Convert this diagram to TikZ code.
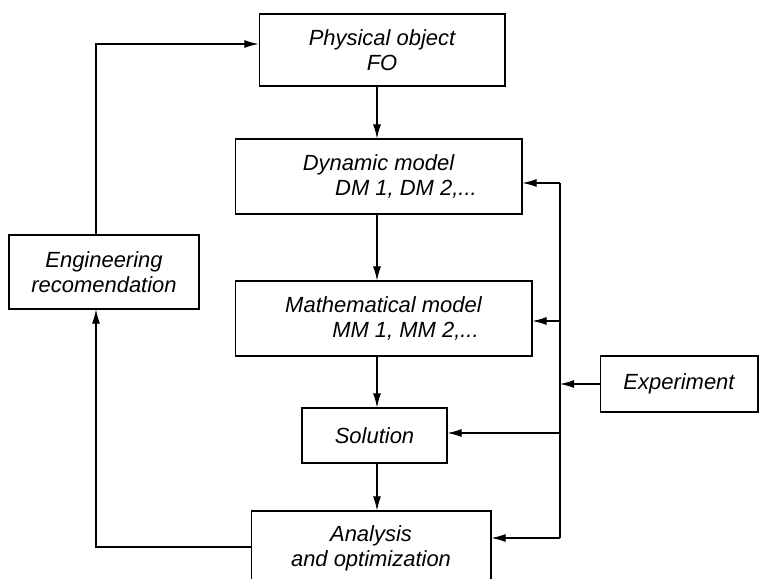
\documentclass[tikz,border=0pt]{standalone}
\usepackage{fontspec}
\setmainfont{Liberation Sans}
\usetikzlibrary{arrows.meta}
\begin{document}
\begin{tikzpicture}[x=0.02cm,y=-0.02cm,
    box/.style={draw,line width=0.6pt,inner sep=0pt,align=center,
      font=\fontsize{12.5}{14}\selectfont\itshape},
    link/.style={line width=0.6pt,-{Latex[length=8pt,width=4.5pt]}}]
  \useasboundingbox (0,0) rectangle (759,578);
  \draw
    (382,50) node[box,minimum width=4.92cm,minimum height=1.44cm] (phys){Physical object\\FO}
    (378.5,176.5) node[box,minimum width=5.74cm,minimum height=1.5cm] (dyn){Dynamic model\\\hspace*{2.5em}DM 1, DM 2,...}
    (383.5,318.5) node[box,minimum width=5.94cm,minimum height=1.5cm] (math){Mathematical model\\\hspace*{2em}MM 1, MM 2,...}
    (374.5,435.5) node[box,minimum width=2.9cm,minimum height=1.1cm] (sol){Solution}
    (371,548.5) node[box,minimum width=4.8cm,minimum height=1.5cm] (ana){Analysis\\and optimization}
    (104,272) node[box,minimum width=3.8cm,minimum height=1.48cm] (eng){Engineering\\recomendation}
    (679,384) node[box,minimum width=3.16cm,minimum height=1.12cm] (exp){Experiment};
  \coordinate (spine) at (377,0);
  \coordinate (ret) at (96,44);
  \coordinate (retlow) at (96,547);
  \coordinate (tapdyn) at (560,183);
  \coordinate (tapmath) at (560,321);
  \coordinate (tapsol) at (560,433);
  \coordinate (tapana) at (560,538);
  \begin{scope}[link]
    \draw (phys.south -| spine) -- (dyn.north -| spine);
    \draw (dyn.south -| spine) -- (math.north -| spine);
    \draw (math.south -| spine) -- (sol.north -| spine);
    \draw (sol.south -| spine) -- (ana.north -| spine);
    \draw (exp.west) -- (exp.west -| tapdyn);
    \draw (tapdyn) -- (tapdyn -| dyn.east);
    \draw (tapmath) -- (tapmath -| math.east);
    \draw (tapsol) -- (tapsol -| sol.east);
    \draw (tapana) -- (tapana -| ana.east);
    \draw (retlow -| ana.west) -- (retlow) -- (eng.south -| retlow);
    \draw (eng.north -| ret) -- (ret) -- (ret -| phys.west);
  \end{scope}
  \draw[line width=0.6pt] (tapdyn) -- (tapana);
\end{tikzpicture}
\end{document}
